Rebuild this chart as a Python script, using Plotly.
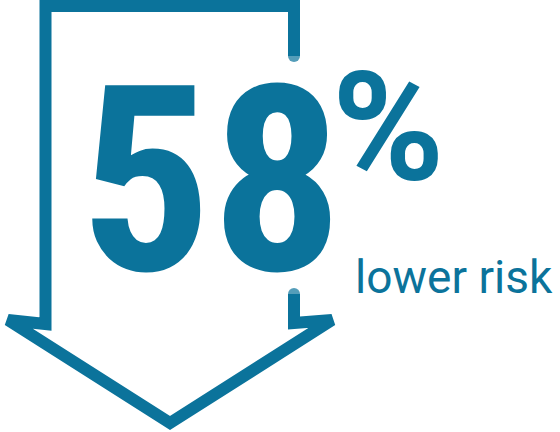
import plotly.graph_objects as go

# Data (infographic content)
value_text = ["58"]
unit_text = ["%"]
caption_text = ["lower risk"]

# Arrow outline vertices (pixel coordinates of the drawing)
arrow_x = [294, 294, 332, 170, 8, 45.5, 45.5, 294, 294]
arrow_y = [294, 323, 320, 423, 320, 324, 6, 6, 56]

COLOR = "#0b739b"

# round caps only at the two open ends of the outline
cap_sizes = [12 if i in (0, len(arrow_x) - 1) else 0 for i in range(len(arrow_x))]

fig = go.Figure()
fig.add_trace(go.Scatter(
    x=arrow_x, y=arrow_y, mode="lines+markers",
    line=dict(color=COLOR, width=12),
    marker=dict(color=COLOR, size=cap_sizes, line=dict(width=0)),
    hoverinfo="skip", showlegend=False,
))

fig.add_annotation(
    x=211, y=181, xref="x", yref="y",
    text='<span style="font-stretch:75%">' + value_text[0] + '</span>',
    showarrow=False, xanchor="center", yanchor="middle",
    font=dict(family="Roboto", size=260, color=COLOR, weight="bold"),
)
fig.add_annotation(
    x=388, y=128, xref="x", yref="y", text=unit_text[0],
    showarrow=False, xanchor="center", yanchor="middle",
    font=dict(family="Roboto", size=152, color=COLOR, weight="bold"),
)
fig.add_annotation(
    x=353, y=277, xref="x", yref="y",
    text='<span style="font-stretch:90%">' + caption_text[0] + '</span>',
    showarrow=False, xanchor="left", yanchor="middle",
    font=dict(family="Roboto", size=46, color=COLOR),
)

fig.update_layout(
    width=560, height=432,
    margin=dict(l=0, r=0, t=0, b=0),
    paper_bgcolor="white", plot_bgcolor="white",
    xaxis=dict(range=[0, 560], visible=False, fixedrange=True),
    yaxis=dict(range=[432, 0], visible=False, fixedrange=True),
)

fig.write_html(
    "out.html",
    config={"displayModeBar": False},
    post_script="document.body.style.margin='0';document.body.style.overflow='hidden';",
)
